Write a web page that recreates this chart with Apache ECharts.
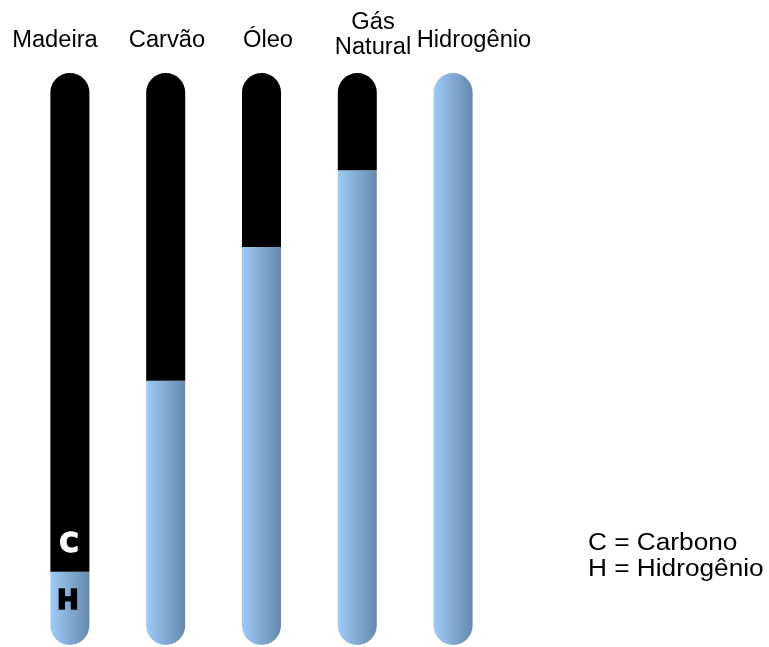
<!DOCTYPE html>
<html>
<head>
<meta charset="utf-8">
<script src="https://cdn.jsdelivr.net/npm/echarts@6/dist/echarts.min.js"></script>
<style>
  html, body { margin: 0; padding: 0; background: #fff; }
  #chart { width: 769px; height: 647px; }
</style>
</head>
<body>
<div id="chart"></div>
<script>
// Fuels and their hydrogen / carbon share (percent of tube height)
const fuels = ['Madeira', 'Carvão', 'Óleo', 'Gás\nNatural', 'Hidrogênio'];
const hydrogen = [12.8, 46.2, 69.6, 83.0, 100];
const carbon = [87.2, 53.8, 30.4, 17.0, 0];
const legendLines = ['C = Carbono', 'H = Hidrogênio'];

const R = 19.5;
const blueFill = new echarts.graphic.LinearGradient(0, 0, 1, 0, [
  { offset: 0, color: '#9dcbf7' },
  { offset: 1, color: '#6689ad' }
]);

const hData = hydrogen.map((v, i) => ({
  value: v,
  itemStyle: { borderRadius: carbon[i] > 0 ? [0, 0, R, R] : [R, R, R, R] }
}));
const cData = carbon.map(v => (v > 0 ? v : '-'));

// Column label positions across the top
const labelX = [55, 167, 268, 373, 474];
const labelY = [41, 41, 41, 35, 41];

const labelFont = '23px "Liberation Sans", Arial, sans-serif';
const markFont = 'bold 26px "DejaVu Sans", sans-serif';

const chart = echarts.init(document.getElementById('chart'));
chart.setOption({
  animation: false,
  grid: { left: 22, width: 479, top: 73, bottom: 2 },
  xAxis: {
    type: 'category',
    data: fuels,
    show: false
  },
  yAxis: { type: 'value', min: 0, max: 100, show: false },
  series: [
    {
      name: 'H',
      type: 'bar',
      stack: 'fuel',
      barWidth: 39,
      itemStyle: { color: blueFill },
      data: hData
    },
    {
      name: 'C',
      type: 'bar',
      stack: 'fuel',
      barWidth: 39,
      itemStyle: { color: '#000', borderRadius: [R, R, 0, 0] },
      data: cData
    }
  ],
  graphic: [
    ...fuels.map((name, i) => ({
      type: 'text',
      z: 100,
      x: labelX[i],
      y: labelY[i],
      scaleX: 1.03,
      style: {
        text: name,
        font: labelFont,
        fill: '#000',
        align: 'center',
        verticalAlign: 'middle',
        lineHeight: 25
      }
    })),
    {
      type: 'text', z: 100, x: 69, y: 545,
      style: { text: 'C', font: markFont, fill: '#fff', stroke: '#fff', lineWidth: 1.5, align: 'center', verticalAlign: 'middle' }
    },
    {
      type: 'text', z: 100, x: 68, y: 602,
      style: { text: 'H', font: markFont, fill: '#000', stroke: '#000', lineWidth: 1.5, align: 'center', verticalAlign: 'middle' }
    },
    {
      type: 'text', z: 100, x: 588, y: 557,
      scaleX: 1.14,
      style: {
        text: legendLines.join('\n'),
        font: labelFont,
        fill: '#000',
        align: 'left',
        verticalAlign: 'middle',
        lineHeight: 26
      }
    }
  ]
});
</script>
</body>
</html>
